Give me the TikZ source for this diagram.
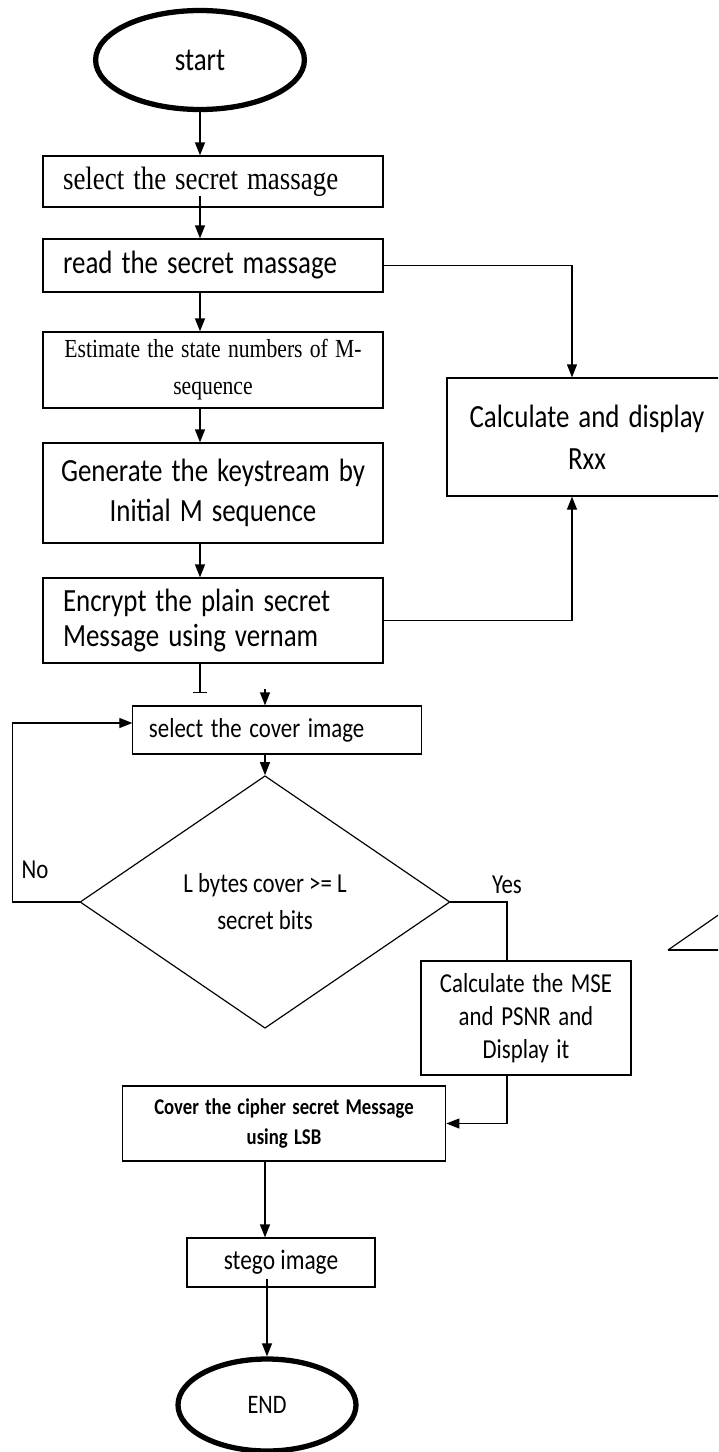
\documentclass[tikz,border=0pt]{standalone}
\usepackage{fontspec}
\setmainfont{Carlito}
\newfontfamily\timesfont{Liberation Serif}
\usetikzlibrary{shapes.geometric}
\usetikzlibrary{arrows.meta}
\usetikzlibrary{calc}

\begin{document}
\begin{tikzpicture}[x=0.03cm, y=-0.03cm]%
	\tikzstyle{tall}=[xscale=0.833, transform shape];
	\tikzstyle{box}=[rectangle, draw=black, line width=1pt, inner sep=0pt, tall];
	\tikzstyle{term}=[ellipse, draw=black, line width=4.5pt, inner sep=0pt, tall];
	\tikzstyle{arrow}=[line width=1pt, -{Triangle[length=0.39cm, width=0.3cm]}];
	\tikzstyle{line}=[line width=1pt];
	\useasboundingbox (0, 0) rectangle (718, 1452);
	\clip (0, 0) rectangle (718, 1452);
	\node (start) at (200, 60) [term, minimum width=7.52cm, minimum height=2.97cm, font=\fontsize{27.6pt}{30pt}\selectfont] {start};
	\node (selmsg) at (213, 181.5) [box, minimum width=12.24cm, minimum height=1.53cm, text width=10.8cm, inner xsep=0.72cm, align=left, font=\timesfont\fontsize{27.6pt}{30pt}\selectfont] {select the secret massage};
	\node (readmsg) at (213, 265.5) [box, minimum width=12.24cm, minimum height=1.59cm, text width=10.8cm, inner xsep=0.72cm, align=left, font=\fontsize{27.6pt}{30pt}\selectfont] {read the secret massage};
	\node (estim) at (213, 370) [box, minimum width=12.24cm, minimum height=2.28cm, text width=11.28cm, inner xsep=0.48cm, align=center, font=\timesfont\fontsize{22.2pt}{31.6pt}\selectfont] {Estimate the state numbers of M-\\sequence};
	\node (keygen) at (213, 493) [box, minimum width=12.24cm, minimum height=3cm, text width=11.28cm, inner xsep=0.48cm, align=center, font=\fontsize{27.6pt}{34pt}\selectfont] {Generate the keystream by\\Initial M sequence};
	\node (encr) at (213, 620.5) [box, minimum width=12.24cm, minimum height=2.55cm, text width=10.8cm, inner xsep=0.72cm, align=left, font=\fontsize{27.6pt}{30pt}\selectfont] {Encrypt the plain secret\\Message using vernam};
	\node (rxx) at (587, 437) [box, minimum width=10.08cm, minimum height=3.54cm, text width=9.12cm, inner xsep=0.48cm, align=center, font=\fontsize{27.6pt}{36pt}\selectfont] {Calculate and display\\Rxx};
	\node (cimg) at (277, 730) [box, minimum width=10.37cm, minimum height=1.44cm, text width=9.22cm, inner xsep=0.58cm, align=left, font=\fontsize{23.4pt}{26pt}\selectfont] {select the cover image};
	\node (dia) at (265, 902) [diamond, draw=black, line width=1pt, inner sep=0pt, tall, minimum width=13.32cm, minimum height=5.94cm, align=center, font=\fontsize{23.4pt}{31.6pt}\selectfont] {L bytes cover >= L\\secret bits};
	\node (mse) at (526, 1018) [box, minimum width=7.56cm, minimum height=3.42cm, text width=6.96cm, inner xsep=0.3cm, align=center, font=\fontsize{23.4pt}{28pt}\selectfont] {Calculate the MSE\\and PSNR and\\Display it};
	\node (cover) at (284, 1123.5) [box, minimum width=11.66cm, minimum height=2.25cm, text width=10.8cm, inner xsep=0.43cm, align=center, font=\bfseries\fontsize{19.2pt}{25.6pt}\selectfont] {Cover the cipher secret Message\\using LSB};
	\node (stego) at (281, 1262.5) [box, minimum width=6.77cm, minimum height=1.47cm, font=\fontsize{24pt}{26pt}\selectfont] {stego image};
	\node (endn) at (267, 1405) [term, minimum width=6.41cm, minimum height=2.76cm, font=\fontsize{22.8pt}{26pt}\selectfont] {END};
	\node (no) at (35, 870) [inner sep=0pt, tall, font=\fontsize{23.4pt}{26pt}\selectfont] {No};
	\node (yes) at (507, 885) [inner sep=0pt, tall, font=\fontsize{23.4pt}{26pt}\selectfont] {Yes};
	\draw[arrow] (start.south) -- (start.south |- selmsg.north);
	\draw[arrow] ($(start.south |- selmsg.south)+(0, -12)$) -- (start.south |- readmsg.north);
	\draw[arrow] (start.south |- readmsg.south) -- (start.south |- estim.north);
	\draw[arrow] (start.south |- estim.south) -- (start.south |- keygen.north);
	\draw[arrow] (start.south |- keygen.south) -- (start.south |- encr.north);
	\draw[line] (start.south |- encr.south) -- ++(0, 29) ++(-7, 0) -- ++(14, 0);
	\draw[arrow] ($(dia.north |- cimg.north)+(0, -16)$) -- (dia.north |- cimg.north);
	\draw[arrow] (readmsg.east) -| ([xshift=-0.45cm]rxx.north);
	\draw[arrow] (encr.east) -| ([xshift=-0.45cm]rxx.south);
	\draw[arrow] (dia.north |- cimg.south) -- (dia.north);
	\draw[arrow] (dia.west) -- ++(-67, 0) |- ([yshift=0.21cm]cimg.west);
	\draw[line] (dia.east) -| ([xshift=-0.57cm]mse.north);
	\draw[arrow] ([xshift=-0.57cm]mse.south) |- (cover.east);
	\draw[arrow] (dia.south |- cover.south) -- (dia.south |- stego.north);
	\draw[arrow] ($(endn.north |- stego.south)+(0, -9)$) -- (endn.north);
	\draw[line] (668, 950) -- (740, 900);
	\draw[line] (668, 950) -- (740, 950);
\end{tikzpicture}
\end{document}
